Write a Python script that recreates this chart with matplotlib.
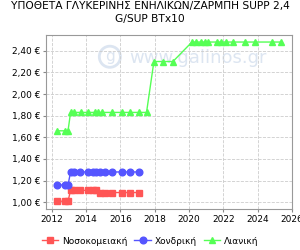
import matplotlib
matplotlib.use('Agg')
import matplotlib.pyplot as plt
from matplotlib.ticker import FuncFormatter

plt.rcParams['font.family'] = ['DejaVu Sans']

title = 'ΥΠΟΘΕΤΑ ΓΛΥΚΕΡΙΝΗΣ ΕΝΗΛΙΚΩΝ/ΖΑΡΜΠΗ SUPP 2,4\nG/SUP BTx10'

# dates (decimal years) shared by hospital + wholesale
dates_hw = [2012.27, 2012.76, 2012.94, 2013.09, 2013.27, 2013.66, 2014.13, 2014.38,
            2014.56, 2014.79, 2015.08, 2015.52, 2016.09, 2016.57, 2017.09]
hospital = [1.01, 1.01, 1.01, 1.11, 1.11, 1.11, 1.11, 1.11,
            1.11, 1.09, 1.09, 1.09, 1.09, 1.09, 1.09]
wholesale = [1.16, 1.16, 1.16, 1.28, 1.28, 1.28, 1.28, 1.28,
             1.28, 1.28, 1.28, 1.28, 1.28, 1.28, 1.28]

dates_r = [2012.27, 2012.76, 2012.94, 2013.09, 2013.27, 2013.72, 2014.13, 2014.50,
           2014.69, 2014.91, 2015.51, 2016.09, 2016.54, 2017.09, 2017.52, 2017.95,
           2018.49, 2019.06, 2020.17, 2020.43, 2020.70, 2020.93, 2021.11, 2021.61,
           2021.88, 2022.18, 2022.58, 2023.27, 2023.85, 2024.85, 2025.35]
retail = [1.66, 1.66, 1.66, 1.83, 1.83, 1.83, 1.83, 1.83,
          1.83, 1.83, 1.83, 1.83, 1.83, 1.83, 1.83, 2.30,
          2.30, 2.30, 2.48, 2.48, 2.48, 2.48, 2.48, 2.48,
          2.48, 2.48, 2.48, 2.48, 2.48, 2.48, 2.48]

labels = ['Νοσοκομειακή', 'Χονδρική', 'Λιανική']

fig = plt.figure(figsize=(3, 2.5), dpi=100)
ax = fig.add_axes([0.153, 0.164, 0.82, 0.696])

# watermark
wm = '#dce5f1'
ax.text(0.26, 0.875, 'g', transform=ax.transAxes, ha='center', va='center',
        fontsize=11, color=wm, zorder=0,
        bbox=dict(boxstyle='circle,pad=0.2', fc='none', ec=wm, lw=2))
ax.text(0.34, 0.87, 'www.galinos.gr', transform=ax.transAxes, ha='left', va='center',
        fontsize=13, color=wm, zorder=0)

ax.plot(dates_hw, hospital, color='#FF5555', marker='s', markersize=4.5, lw=1, label=labels[0])
ax.plot(dates_hw, wholesale, color='#5555FF', marker='o', markersize=4.8, lw=1, label=labels[1])
ax.plot(dates_r, retail, color='#55FF55', marker='^', markersize=5, lw=1, label=labels[2])

ax.set_xlim(2011.65, 2026)
ax.set_ylim(0.938, 2.545)
ax.set_xticks(range(2012, 2027, 2))
ax.set_yticks([1.0, 1.2, 1.4, 1.6, 1.8, 2.0, 2.2, 2.4])
ax.yaxis.set_major_formatter(FuncFormatter(lambda v, p: ('%.2f €' % v).replace('.', ',')))
ax.tick_params(labelsize=6.5, length=2, color='#888888', pad=2)
ax.grid(True, color='#cccccc', ls='--', lw=0.6)
for s in ax.spines.values():
    s.set_color('#999999')

fig.suptitle(title, fontsize=7.7, y=0.995, linespacing=1.3)
fig.legend(loc='lower center', ncol=3, frameon=False, fontsize=6.5,
           bbox_to_anchor=(0.5, -0.015), handlelength=1.8, columnspacing=0.8, handletextpad=0.4)

fig.savefig('out.png', dpi=100)
